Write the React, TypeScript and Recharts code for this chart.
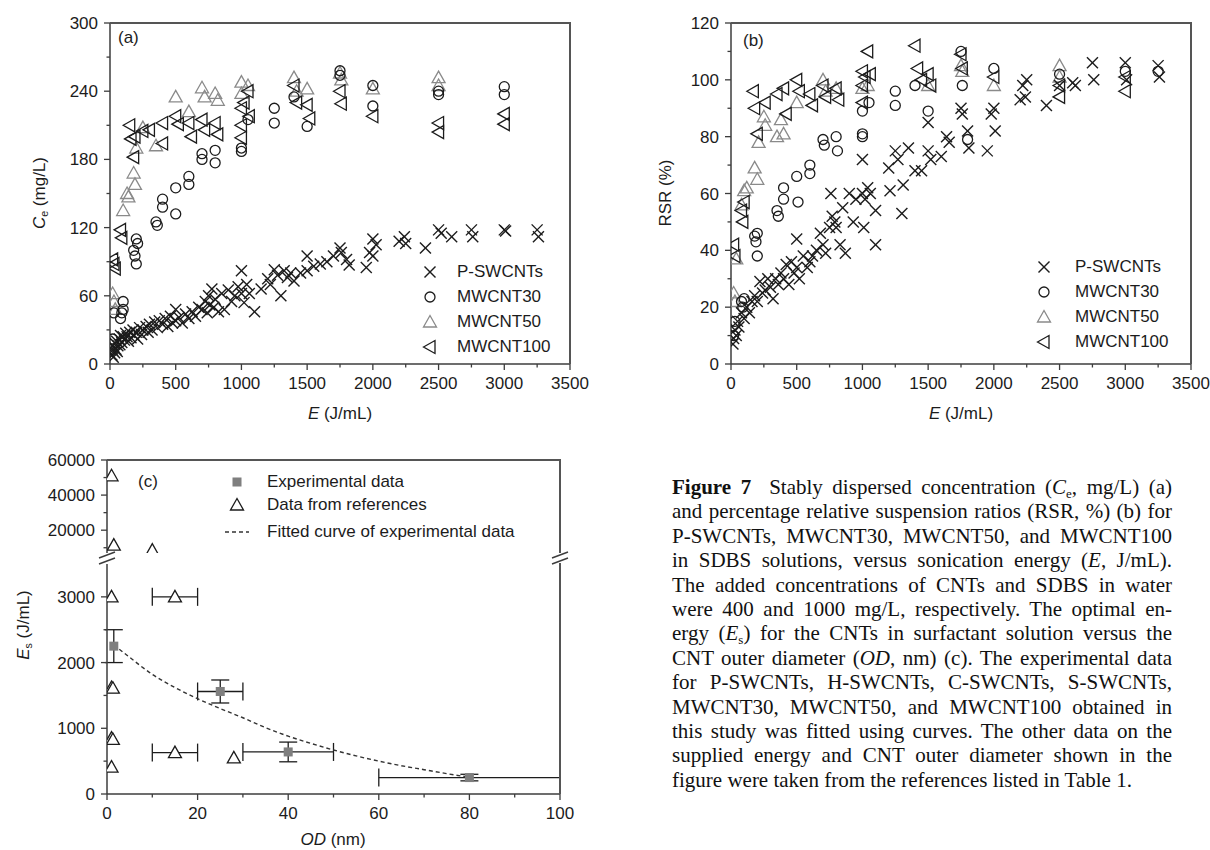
import React from 'react'
import { ScatterChart, Scatter, XAxis, YAxis, ErrorBar } from 'recharts'

const AXIS = '#3c3c3c'
const INK = '#1c1c1c'
const GREY = '#8a8a8a'
const SANS = '"Liberation Sans", Arial, Helvetica, sans-serif'
const SERIF = '"Liberation Serif", "Times New Roman", serif'

// ---------- panel (a): Ce (mg/L) vs E (J/mL) ----------
const swcntA: [number, number][] = [
  [15, 8], [20, 12], [25, 6], [30, 15], [35, 10], [40, 18], [45, 13], [50, 20], [55, 11], [60, 16],
  [70, 22], [75, 17], [80, 25], [90, 19], [100, 24], [110, 21], [120, 27], [130, 24], [140, 20],
  [150, 28], [160, 23], [175, 30], [185, 25], [200, 28], [210, 22], [225, 32], [240, 26], [250, 30],
  [275, 33], [290, 28], [300, 35], [320, 30], [340, 37], [360, 32], [375, 38], [400, 35], [420, 40],
  [440, 33], [460, 42], [475, 36], [500, 48], [500, 38], [525, 41], [550, 36], [575, 44], [600, 40],
  [625, 46], [650, 42], [675, 50], [700, 48], [725, 55], [740, 45], [750, 60], [760, 52], [775, 66],
  [790, 50], [800, 57], [825, 46], [850, 62], [870, 48], [900, 65], [925, 55], [950, 60], [975, 68],
  [1000, 82], [1000, 62], [1020, 54], [1040, 70], [1060, 62], [1100, 46], [1150, 66], [1200, 75],
  [1220, 70], [1250, 83], [1275, 78], [1300, 60], [1325, 82], [1350, 76], [1375, 80], [1400, 73],
  [1450, 80], [1500, 95], [1500, 82], [1550, 86], [1600, 88], [1650, 90], [1700, 95], [1750, 102],
  [1760, 98], [1800, 92], [1820, 87], [1950, 85], [1975, 98], [2000, 110], [2000, 95], [2025, 105],
  [2200, 108], [2240, 112], [2250, 106], [2400, 102], [2500, 118], [2520, 115], [2600, 112],
  [2750, 118], [2760, 112], [3000, 118], [3010, 117], [3250, 118], [3260, 112],
]
const mw30A: [number, number][] = [
  [20, 22], [30, 45], [80, 40], [90, 45], [100, 55], [100, 48], [180, 100], [190, 95], [200, 110],
  [200, 88], [210, 106], [350, 125], [360, 122], [400, 145], [400, 138], [500, 155], [500, 132],
  [600, 165], [600, 158], [700, 185], [700, 180], [800, 188], [800, 177], [1000, 190], [1000, 187],
  [1050, 215], [1250, 225], [1250, 212], [1400, 235], [1500, 209], [1750, 258], [1750, 254],
  [2000, 245], [2000, 227], [2500, 240], [2500, 237], [3000, 244], [3000, 237],
]
const mw50A: [number, number][] = [
  [20, 62], [30, 55], [40, 48], [100, 135], [130, 150], [140, 147], [180, 168], [190, 158],
  [200, 190], [250, 208], [350, 192], [500, 235], [600, 222], [700, 243], [720, 235], [800, 238],
  [820, 232], [1000, 248], [1000, 238], [1050, 245], [1400, 252], [1420, 240], [1500, 242],
  [1750, 256], [1760, 250], [2000, 242], [2500, 252], [2500, 245],
]
const mw100A: [number, number][] = [
  [20, 92], [30, 88], [40, 84], [80, 118], [90, 111], [150, 210], [160, 198], [180, 182],
  [190, 200], [250, 205], [300, 206], [400, 212], [400, 194], [500, 218], [520, 211], [600, 212],
  [620, 200], [700, 215], [720, 206], [800, 212], [820, 202], [1000, 225], [1000, 210], [1000, 199],
  [1020, 230], [1050, 240], [1060, 218], [1400, 245], [1420, 230], [1500, 228], [1520, 216],
  [1750, 240], [1760, 229], [2000, 218], [2500, 212], [2500, 204], [3000, 220], [3000, 211],
]

// ---------- panel (b): RSR (%) vs E (J/mL) ----------
const swcntB: [number, number][] = [
  [15, 7], [20, 9], [30, 12], [40, 10], [50, 15], [60, 13], [80, 18], [100, 16], [120, 20],
  [140, 18], [160, 22], [180, 24], [200, 22], [220, 29], [240, 25], [260, 26], [280, 30], [300, 27],
  [320, 23], [340, 30], [360, 28], [380, 32], [400, 30], [420, 35], [440, 28], [460, 36], [480, 32],
  [500, 44], [500, 34], [520, 30], [550, 38], [580, 34], [600, 36], [620, 38], [650, 40], [680, 46],
  [700, 42], [720, 39], [750, 48], [760, 60], [770, 52], [790, 50], [800, 48], [830, 42], [850, 55],
  [870, 39], [900, 60], [930, 50], [950, 58], [1000, 72], [1000, 60], [1010, 48], [1020, 58],
  [1040, 62], [1060, 60], [1100, 42], [1100, 54], [1200, 69], [1210, 61], [1250, 75], [1270, 72],
  [1300, 53], [1310, 63], [1350, 76], [1400, 68], [1450, 68], [1500, 85], [1500, 75], [1520, 72],
  [1600, 73], [1640, 80], [1660, 78], [1750, 90], [1760, 88], [1800, 82], [1810, 76], [1950, 75],
  [1980, 88], [2000, 90], [2010, 82], [2200, 93], [2220, 98], [2250, 100], [2240, 94], [2400, 91],
  [2500, 98], [2600, 99], [2620, 98], [2750, 106], [2760, 100], [3000, 106], [3010, 100],
  [3250, 105], [3260, 101],
]
const mw30B: [number, number][] = [
  [20, 10], [30, 15], [80, 22], [90, 20], [100, 23], [180, 45], [190, 43], [200, 46], [200, 38],
  [350, 54], [360, 52], [400, 62], [400, 58], [500, 66], [510, 57], [600, 70], [600, 67], [700, 79],
  [710, 77], [800, 80], [810, 75], [1000, 80], [1000, 81], [1000, 89], [1050, 92], [1250, 96],
  [1250, 91], [1400, 98], [1500, 89], [1750, 110], [1760, 98], [1800, 79], [2000, 104],
  [2500, 102], [3000, 103], [3250, 103],
]
const mw50B: [number, number][] = [
  [20, 25], [30, 22], [40, 37], [80, 56], [100, 61], [120, 62], [180, 69], [200, 65], [210, 78],
  [250, 87], [260, 84], [350, 80], [380, 86], [400, 81], [500, 92], [700, 100], [720, 96], [800, 97],
  [1000, 97], [1040, 98], [1500, 98], [1750, 105], [1760, 103], [2000, 98], [2500, 105], [2500, 101],
]
const mw100B: [number, number][] = [
  [20, 42], [30, 38], [80, 54], [90, 50], [100, 57], [170, 96], [180, 90], [200, 81], [260, 92],
  [350, 95], [400, 97], [420, 88], [500, 100], [520, 96], [600, 95], [620, 91], [700, 98], [720, 94],
  [800, 97], [820, 93], [1000, 103], [1000, 98], [1000, 92], [1020, 101], [1040, 110], [1060, 102],
  [1400, 112], [1420, 104], [1450, 100], [1500, 102], [1520, 98], [1750, 109], [1760, 104],
  [2000, 101], [2500, 98], [2500, 94], [3000, 101], [3000, 96],
]

// ---------- panel (c): Es (J/mL) vs OD (nm) ----------
// [OD, Es, OD error, Es error]
const experimental: [number, number, number, number][] = [
  [1.5, 2250, 0, 250], [25, 1560, 5, 175], [40, 640, 10, 150], [80, 250, 20, 50],
]
const refsLow: [number, number, number][] = [
  [1, 3000, 0], [15, 3000, 5], [1, 1620, 0], [1.3, 1610, 0], [1, 850, 0], [1.3, 830, 0],
  [15, 630, 5], [28, 550, 0], [1, 410, 0],
]
const refsHigh: [number, number][] = [[1, 51000], [1.5, 11500], [10, 8600]]
const fitted: [number, number][] = [
  [1.5, 2270], [5, 2080], [10, 1820], [15, 1620], [20, 1450], [25, 1300], [30, 1160], [35, 1010],
  [40, 880], [45, 770], [50, 670], [55, 580], [60, 500], [65, 430], [70, 370], [75, 310], [80, 255],
]

const xTicksE = [0, 250, 500, 750, 1000, 1250, 1500, 1750, 2000, 2250, 2500, 2750, 3000, 3250, 3500]
const xMajorE = [0, 500, 1000, 1500, 2000, 2500, 3000, 3500]
const yTicksA = [0, 30, 60, 90, 120, 150, 180, 210, 240, 270, 300]
const yMajorA = [0, 60, 120, 180, 240, 300]
const yTicksB = [0, 10, 20, 30, 40, 50, 60, 70, 80, 90, 100, 110, 120]
const yMajorB = [0, 20, 40, 60, 80, 100, 120]
const xTicksOD = [0, 10, 20, 30, 40, 50, 60, 70, 80, 90, 100]
const xMajorOD = [0, 20, 40, 60, 80, 100]
const yTicksLow = [0, 500, 1000, 1500, 2000, 2500, 3000]
const yMajorLow = [0, 1000, 2000, 3000]
const yTicksHigh = [10000, 20000, 30000, 40000, 50000, 60000]
const yMajorHigh = [20000, 40000, 60000]

const pts = (arr: [number, number][]) => arr.map(([x, y]) => ({ x, y }))

// ---------- marker shapes ----------
const Cross = ({ cx, cy }: any) => (
  <g stroke={INK} strokeWidth={1.4}>
    <line x1={cx - 5.5} y1={cy - 5.5} x2={cx + 5.5} y2={cy + 5.5} />
    <line x1={cx - 5.5} y1={cy + 5.5} x2={cx + 5.5} y2={cy - 5.5} />
  </g>
)
const Ring = ({ cx, cy }: any) => <circle cx={cx} cy={cy} r={5} fill="none" stroke={INK} strokeWidth={1.3} />
const TriUp = ({ cx, cy, color = GREY, fill = 'none' }: any) => (
  <polygon points={`${cx},${cy - 6.5} ${cx - 6.5},${cy + 5} ${cx + 6.5},${cy + 5}`} fill={fill} stroke={color} strokeWidth={1.3} />
)
const TriLeft = ({ cx, cy }: any) => (
  <polygon points={`${cx - 6.5},${cy} ${cx + 5},${cy - 6.5} ${cx + 5},${cy + 6.5}`} fill="none" stroke={INK} strokeWidth={1.3} />
)
const RefTri = (p: any) => <TriUp {...p} color={INK} fill="#fff" />
const Square = ({ cx, cy }: any) => <rect x={cx - 4.5} y={cy - 4.5} width={9} height={9} fill="#7f7f7f" />
const NoDot = () => <g />

// ---------- ticks ----------
const xTick = (major: number[]) => (p: any) => {
  const { x, y, payload } = p
  const m = major.includes(payload.value)
  return (
    <g>
      <line x1={x} y1={y} x2={x} y2={y + (m ? 6 : 3.5)} stroke={AXIS} strokeWidth={1.3} />
      {m && (
        <text x={x} y={y + 25} textAnchor="middle" fontSize={17} fontFamily={SANS} fill={INK}>
          {payload.value}
        </text>
      )}
    </g>
  )
}
const yTick = (major: number[]) => (p: any) => {
  const { x, y, payload } = p
  const m = major.includes(payload.value)
  return (
    <g>
      <line x1={x} y1={y} x2={x - (m ? 6 : 3.5)} y2={y} stroke={AXIS} strokeWidth={1.3} />
      {m && (
        <text x={x - 12} y={y + 6} textAnchor="end" fontSize={17} fontFamily={SANS} fill={INK}>
          {payload.value}
        </text>
      )}
    </g>
  )
}

type Rect = { l: number; t: number; r: number; b: number }
const PL = 80
const PT = 10
const PR = 20
const PB = 40

function Plot(props: {
  rect: Rect
  xDomain: [number, number]
  yDomain: [number, number]
  xTicks: number[]
  xMajor: number[]
  yTicks: number[]
  yMajor: number[]
  showX?: boolean
  children: React.ReactNode
}) {
  const { rect, xDomain, yDomain, xTicks, xMajor, yTicks, yMajor, showX = true } = props
  const width = rect.r - rect.l + PL + PR
  const height = rect.b - rect.t + PT + PB
  const line = { stroke: AXIS, strokeWidth: 1.5 }
  return (
    <div style={{ position: 'absolute', left: rect.l - PL, top: rect.t - PT }}>
      <ScatterChart width={width} height={height} margin={{ top: PT, right: PR, bottom: showX ? 0 : PB, left: 0 }}>
        <XAxis
          type="number"
          dataKey="x"
          domain={xDomain}
          ticks={xTicks}
          interval={0}
          height={showX ? PB : 0}
          hide={!showX}
          tickSize={0}
          tickMargin={0}
          tickLine={false}
          tick={xTick(xMajor)}
          axisLine={line}
          allowDataOverflow
        />
        <YAxis
          type="number"
          dataKey="y"
          domain={yDomain}
          ticks={yTicks}
          interval={0}
          width={PL}
          tickSize={0}
          tickMargin={0}
          tickLine={false}
          tick={yTick(yMajor)}
          axisLine={line}
          allowDataOverflow
        />
        {props.children}
      </ScatterChart>
    </div>
  )
}

const rectA: Rect = { l: 110, t: 23, r: 570, b: 364 }
const rectB: Rect = { l: 731, t: 23, r: 1191, b: 364 }
const rectCHigh: Rect = { l: 107, t: 460, r: 560, b: 553 }
const rectCLow: Rect = { l: 107, t: 564, r: 560, b: 794 }

// top + right edges of a plot box
const Frame = ({ rect, top = true }: { rect: Rect; top?: boolean }) => (
  <>
    {top && (
      <div style={{ position: 'absolute', left: rect.l, top: rect.t - 1, width: rect.r - rect.l + 1, height: 2, background: '#555', zIndex: 5 }} />
    )}
    <div style={{ position: 'absolute', left: rect.r - 1, top: rect.t - 1, width: 2, height: rect.b - rect.t + 1, background: '#555', zIndex: 5 }} />
  </>
)

const abs = (left: number, top: number, extra: React.CSSProperties = {}): React.CSSProperties => ({
  position: 'absolute',
  left,
  top,
  fontFamily: SANS,
  fontSize: 17,
  color: INK,
  whiteSpace: 'nowrap',
  lineHeight: '20px',
  ...extra,
})
const sub: React.CSSProperties = { fontSize: '0.62em', position: 'relative', top: '0.3em', lineHeight: 0 }

const VTitle = ({ cx, cy, children }: { cx: number; cy: number; children: React.ReactNode }) => (
  <div style={abs(cx, cy, { transform: 'translate(-50%, -50%) rotate(-90deg)' })}>{children}</div>
)
const HTitle = ({ cx, cy, children }: { cx: number; cy: number; children: React.ReactNode }) => (
  <div style={abs(cx, cy, { transform: 'translate(-50%, -50%)' })}>{children}</div>
)

const legendNames = ['P-SWCNTs', 'MWCNT30', 'MWCNT50', 'MWCNT100']
const legendShapes = [Cross, Ring, TriUp, TriLeft]

const SeriesLegend = ({ sx, tx, rows }: { sx: number; tx: number; rows: number[] }) => (
  <>
    <svg style={{ position: 'absolute', left: sx - 10, top: rows[0] - 10 }} width={20} height={rows[3] - rows[0] + 20}>
      {legendShapes.map((S, i) => (
        <S key={i} cx={10} cy={rows[i] - rows[0] + 10} />
      ))}
    </svg>
    {legendNames.map((n, i) => (
      <div key={n} style={abs(tx, rows[i] - 10)}>
        {n}
      </div>
    ))}
  </>
)

const captionLines: React.ReactNode[] = [
  <>
    <b>Figure 7</b>
    <span style={{ marginLeft: 18 }}>Stably dispersed concentration (</span>
    <i>C</i>
    <span style={sub}>e</span>, mg/L) (a)
  </>,
  <>and percentage relative suspension ratios (RSR, %) (b) for</>,
  <>P-SWCNTs, MWCNT30, MWCNT50, and MWCNT100</>,
  <>
    in SDBS solutions, versus sonication energy (<i>E</i>, J/mL).
  </>,
  <>The added concentrations of CNTs and SDBS in water</>,
  <>were 400 and 1000 mg/L, respectively. The optimal en-</>,
  <>
    ergy (<i>E</i>
    <span style={sub}>s</span>) for the CNTs in surfactant solution versus the
  </>,
  <>
    CNT outer diameter (<i>OD</i>, nm) (c). The experimental data
  </>,
  <>for P-SWCNTs, H-SWCNTs, C-SWCNTs, S-SWCNTs,</>,
  <>MWCNT30, MWCNT50, and MWCNT100 obtained in</>,
  <>this study was fitted using curves. The other data on the</>,
  <>supplied energy and CNT outer diameter shown in the</>,
  <>figure were taken from the references listed in Table 1.</>,
]

export default function App() {
  const expPts = experimental.map(([x, y, ex, ey]) => ({ x, y, ex, ey }))
  const refPts = refsLow.map(([x, y, ex]) => ({ x, y, ex }))
  return (
    <div style={{ position: 'absolute', left: 0, top: 0, width: 1210, height: 850, background: '#fff', overflow: 'hidden' }}>
      {/* (a) */}
      <Plot rect={rectA} xDomain={[0, 3500]} yDomain={[0, 300]} xTicks={xTicksE} xMajor={xMajorE} yTicks={yTicksA} yMajor={yMajorA}>
        <Scatter data={pts(mw50A)} shape={TriUp} isAnimationActive={false} />
        <Scatter data={pts(mw30A)} shape={Ring} isAnimationActive={false} />
        <Scatter data={pts(mw100A)} shape={TriLeft} isAnimationActive={false} />
        <Scatter data={pts(swcntA)} shape={Cross} isAnimationActive={false} />
      </Plot>

      {/* (b) */}
      <Plot rect={rectB} xDomain={[0, 3500]} yDomain={[0, 120]} xTicks={xTicksE} xMajor={xMajorE} yTicks={yTicksB} yMajor={yMajorB}>
        <Scatter data={pts(mw50B)} shape={TriUp} isAnimationActive={false} />
        <Scatter data={pts(mw30B)} shape={Ring} isAnimationActive={false} />
        <Scatter data={pts(mw100B)} shape={TriLeft} isAnimationActive={false} />
        <Scatter data={pts(swcntB)} shape={Cross} isAnimationActive={false} />
      </Plot>

      {/* (c) upper segment */}
      <Plot rect={rectCHigh} xDomain={[0, 100]} yDomain={[7000, 60000]} xTicks={xTicksOD} xMajor={xMajorOD} yTicks={yTicksHigh} yMajor={yMajorHigh} showX={false}>
        <Scatter data={pts(refsHigh)} shape={RefTri} isAnimationActive={false} />
      </Plot>

      {/* (c) lower segment */}
      <Plot rect={rectCLow} xDomain={[0, 100]} yDomain={[0, 3500]} xTicks={xTicksOD} xMajor={xMajorOD} yTicks={yTicksLow} yMajor={yMajorLow}>
        <Scatter data={pts(fitted)} shape={NoDot} line={{ stroke: '#333', strokeWidth: 1.4, strokeDasharray: '4 3' }} lineType="joint" lineJointType="monotoneX" isAnimationActive={false} />
        <Scatter data={refPts} shape={RefTri} isAnimationActive={false}>
          <ErrorBar dataKey="ex" direction="x" width={9} stroke={INK} strokeWidth={1.3} />
        </Scatter>
        <Scatter data={expPts} shape={Square} isAnimationActive={false}>
          <ErrorBar dataKey="ex" direction="x" width={9} stroke={INK} strokeWidth={1.3} />
          <ErrorBar dataKey="ey" direction="y" width={9} stroke={INK} strokeWidth={1.3} />
        </Scatter>
      </Plot>

      {/* axis-break marks and panel (c) legend symbols */}
      <svg style={{ position: 'absolute', left: 90, top: 470 }} width={480} height={100}>
        {[107, 560].map((x) => (
          <g key={x}>
            <line x1={x - 98} y1={88} x2={x - 82} y2={82} stroke={AXIS} strokeWidth={1.4} />
            <line x1={x - 98} y1={94} x2={x - 82} y2={88} stroke={AXIS} strokeWidth={1.4} />
          </g>
        ))}
        <Square cx={147} cy={12} />
        <RefTri cx={147} cy={35} />
        <line x1={135} y1={62} x2={159} y2={62} stroke="#333" strokeWidth={1.4} strokeDasharray="4 3" />
      </svg>

      {/* plot boxes */}
      <Frame rect={rectA} />
      <Frame rect={rectB} />
      <Frame rect={rectCHigh} />
      <Frame rect={rectCLow} top={false} />

      {/* panel labels */}
      <div style={abs(118, 28)}>(a)</div>
      <div style={abs(743, 31)}>(b)</div>
      <div style={abs(138, 472)}>(c)</div>

      {/* axis titles */}
      <VTitle cx={40} cy={193}>
        <i>C</i>
        <span style={sub}>e</span> (mg/L)
      </VTitle>
      <VTitle cx={666} cy={193}>RSR (%)</VTitle>
      <VTitle cx={24} cy={625}>
        <i>E</i>
        <span style={sub}>s</span> (J/mL)
      </VTitle>
      <HTitle cx={340} cy={414}>
        <i>E</i> (J/mL)
      </HTitle>
      <HTitle cx={961} cy={414}>
        <i>E</i> (J/mL)
      </HTitle>
      <HTitle cx={333} cy={840}>
        <i>OD</i> (nm)
      </HTitle>

      {/* legends */}
      <SeriesLegend sx={430} tx={457} rows={[272, 297, 322, 347]} />
      <SeriesLegend sx={1044} tx={1075} rows={[267, 292, 317, 342]} />
      <div style={abs(267, 472)}>Experimental data</div>
      <div style={abs(267, 495)}>Data from references</div>
      <div style={abs(267, 522)}>Fitted curve of experimental data</div>

      {/* caption */}
      <div style={{ position: 'absolute', left: 672, top: 475, width: 500, fontFamily: SERIF, fontSize: 21, lineHeight: '24.4px', color: '#111' }}>
        {captionLines.map((ln, i) => (
          <div
            key={i}
            style={{
              textAlign: 'justify',
              textAlignLast: i === captionLines.length - 1 ? 'left' : 'justify',
              whiteSpace: 'nowrap',
            }}
          >
            {ln}
          </div>
        ))}
      </div>
    </div>
  )
}
